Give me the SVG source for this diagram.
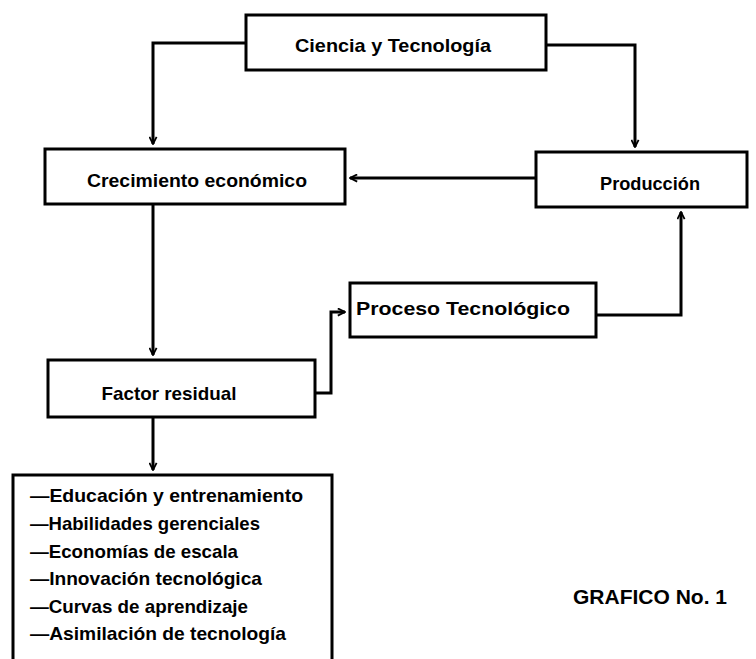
<svg xmlns="http://www.w3.org/2000/svg" width="756" height="659" viewBox="0 0 756 659">
<style>
.box{fill:#fff;stroke:#000;stroke-width:3}
.con{fill:none;stroke:#000;stroke-width:3}
.t{font-family:"Liberation Sans",Arial,sans-serif;font-size:18.5px;font-weight:bold;fill:#000}
.l{font-family:"Liberation Sans",Arial,sans-serif;font-size:18.5px;font-weight:bold;fill:#000}
.g{font-family:"Liberation Sans",Arial,sans-serif;font-size:21px;font-weight:bold;fill:#000}
</style>
<defs>
<marker id="ah" viewBox="0 0 10 10" refX="9" refY="5" markerWidth="9" markerHeight="9" markerUnits="userSpaceOnUse" orient="auto">
<path d="M1,1 L9,5 L1,9" fill="none" stroke="#000" stroke-width="2"/>
</marker>
</defs>
<rect width="756" height="659" fill="#fff"/>
<g id="connectors">
<path class="con" d="M246,43 H153 V144" marker-end="url(#ah)"/>
<path class="con" d="M546,45 H635 V147" marker-end="url(#ah)"/>
<path class="con" d="M536,178 H350" marker-end="url(#ah)"/>
<path class="con" d="M153,204 V355" marker-end="url(#ah)"/>
<path class="con" d="M315,393 H331 V312 H345" marker-end="url(#ah)"/>
<path class="con" d="M596,315 H681 V212" marker-end="url(#ah)"/>
<path class="con" d="M153,417 V470" marker-end="url(#ah)"/>
</g>
<g id="ciencia">
<rect class="box" x="246" y="15" width="300" height="55"/>
<text class="t" x="393" y="52" text-anchor="middle" textLength="196" lengthAdjust="spacingAndGlyphs">Ciencia y Tecnología</text>
</g>
<g id="crecimiento">
<rect class="box" x="45" y="149" width="300" height="55"/>
<text class="t" x="197" y="187" text-anchor="middle" textLength="220" lengthAdjust="spacingAndGlyphs">Crecimiento económico</text>
</g>
<g id="produccion">
<rect class="box" x="536" y="152" width="211" height="55"/>
<text class="t" x="650" y="190" text-anchor="middle" textLength="100" lengthAdjust="spacingAndGlyphs">Producción</text>
</g>
<g id="proceso">
<rect class="box" x="350" y="283" width="246" height="54"/>
<text class="t" x="463" y="315" text-anchor="middle" textLength="214" lengthAdjust="spacingAndGlyphs">Proceso Tecnológico</text>
</g>
<g id="factor">
<rect class="box" x="48" y="360" width="267" height="57"/>
<text class="t" x="169" y="400" text-anchor="middle" textLength="135" lengthAdjust="spacingAndGlyphs">Factor residual</text>
</g>
<g id="lista">
<path class="con" d="M13,659 V475 H332 V659"/>
<text class="l" x="30" y="502" textLength="273" lengthAdjust="spacingAndGlyphs">—Educación y entrenamiento</text>
<text class="l" x="30" y="530" textLength="230" lengthAdjust="spacingAndGlyphs">—Habilidades gerenciales</text>
<text class="l" x="30" y="558" textLength="208" lengthAdjust="spacingAndGlyphs">—Economías de escala</text>
<text class="l" x="30" y="585" textLength="232" lengthAdjust="spacingAndGlyphs">—Innovación tecnológica</text>
<text class="l" x="30" y="613" textLength="218" lengthAdjust="spacingAndGlyphs">—Curvas de aprendizaje</text>
<text class="l" x="30" y="640" textLength="256" lengthAdjust="spacingAndGlyphs">—Asimilación de tecnología</text>
</g>
<text class="g" x="573" y="604" textLength="154" lengthAdjust="spacingAndGlyphs">GRAFICO No. 1</text>
</svg>
